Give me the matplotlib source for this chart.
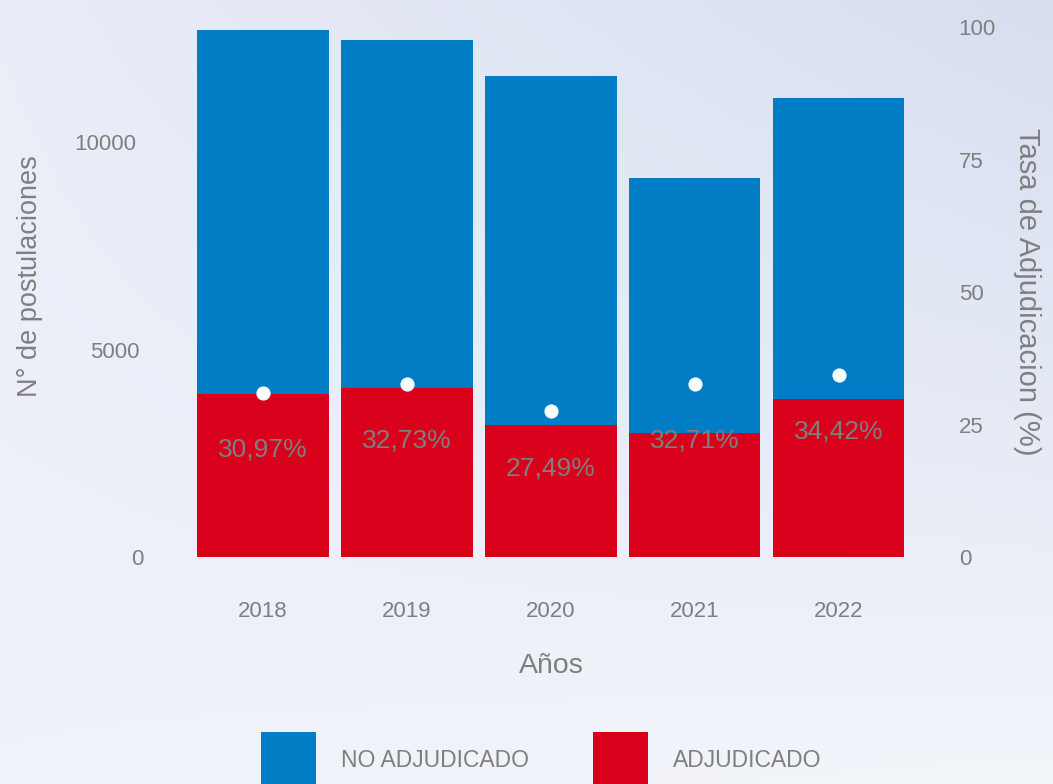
import matplotlib
matplotlib.use("Agg")
import matplotlib.pyplot as plt
import matplotlib.transforms as mtransforms
import numpy as np

plt.rcParams['font.family'] = ['Liberation Sans', 'DejaVu Sans']

# datos
anios = ['2018', '2019', '2020', '2021', '2022']
adjudicado = [3930, 4078, 3186, 2987, 3807]
total = [12690, 12460, 11590, 9132, 11060]
no_adjudicado = [t - a for t, a in zip(total, adjudicado)]
tasa = [30.97, 32.73, 27.49, 32.71, 34.42]
etiquetas = ['30,97%', '32,73%', '27,49%', '32,71%', '34,42%']

azul = '#007dc5'
rojo = '#d9001b'
gris = '#7f7f7f'

fig = plt.figure(figsize=(10.53, 7.84), dpi=100)

# fondo degradado
bg = fig.add_axes([0, 0, 1, 1], zorder=-10)
esq = np.array([[[0.92, 0.93, 0.97], [0.84, 0.87, 0.94]],
                [[0.94, 0.95, 0.98], [0.95, 0.96, 0.98]]])
u = np.linspace(0, 1, 200)
v = np.linspace(0, 1, 200)
U, V = np.meshgrid(u, v)
img = (esq[0, 0] * ((1 - U) * (1 - V))[..., None] + esq[0, 1] * (U * (1 - V))[..., None]
       + esq[1, 0] * ((1 - U) * V)[..., None] + esq[1, 1] * (U * V)[..., None])
bg.imshow(img, aspect='auto', extent=[0, 1, 0, 1])
bg.axis('off')

ax = fig.add_axes([0.1677, 0.2895, 0.7111, 0.676])
ax.set_facecolor('none')
x = np.arange(len(anios))

b1 = ax.bar(x, adjudicado, width=0.91, color=rojo, label='ADJUDICADO')
b2 = ax.bar(x, no_adjudicado, width=0.91, bottom=adjudicado, color=azul, label='NO ADJUDICADO')

ax.set_xlim(-0.6, 4.6)
ax.set_ylim(0, 12771)
ax.set_yticks([0, 5000, 10000])
ax.set_xticks(x)
ax.set_xticklabels(anios)
ax.tick_params(axis='y', length=0, pad=29, labelsize=16, labelcolor=gris)
ax.tick_params(axis='x', length=0, pad=32, labelsize=16, labelcolor=gris)
for s in ax.spines.values():
    s.set_visible(False)

# pequeño corrimiento de las etiquetas del eje izquierdo como en el original
desp = [7, 3, 0]
for lab, d in zip(ax.get_yticklabels(), desp):
    lab.set_transform(lab.get_transform() + mtransforms.ScaledTranslation(d / 100, 0, fig.dpi_scale_trans))

ax.set_xlabel('Años', fontsize=20.5, color=gris, labelpad=22)
ax.set_ylabel('N° de postulaciones', fontsize=19.5, color=gris)
ax.yaxis.set_label_coords(-0.178, 0.53)

ax2 = ax.twinx()
ax2.set_ylim(0, 100)
ax2.set_yticks([0, 25, 50, 75, 100])
ax2.tick_params(axis='y', length=0, pad=24, labelsize=16, labelcolor=gris)
for s in ax2.spines.values():
    s.set_visible(False)
ax2.set_ylabel('Tasa de Adjudicacion (%)', fontsize=21, color=gris, rotation=270, labelpad=22)
ax2.yaxis.set_label_coords(1.155, 0.5)

ax2.plot(x, tasa, 'o', color='white', markersize=9.2, linestyle='none')
for i, (t, lab) in enumerate(zip(tasa, etiquetas)):
    ax2.annotate(lab, (x[i], t), xytext=(0, -41), textcoords='offset points',
                 ha='center', va='center', fontsize=19, color=gris)

fig.legend(handles=[b2, b1], labels=['NO ADJUDICADO', 'ADJUDICADO'],
           loc='center', bbox_to_anchor=(0.514, 0.030), ncol=2, frameon=False,
           fontsize=16.5, labelcolor=gris, handlelength=2.4, handleheight=3.45,
           handletextpad=1.1, columnspacing=2.8)

fig.savefig('out.png', dpi=100)
